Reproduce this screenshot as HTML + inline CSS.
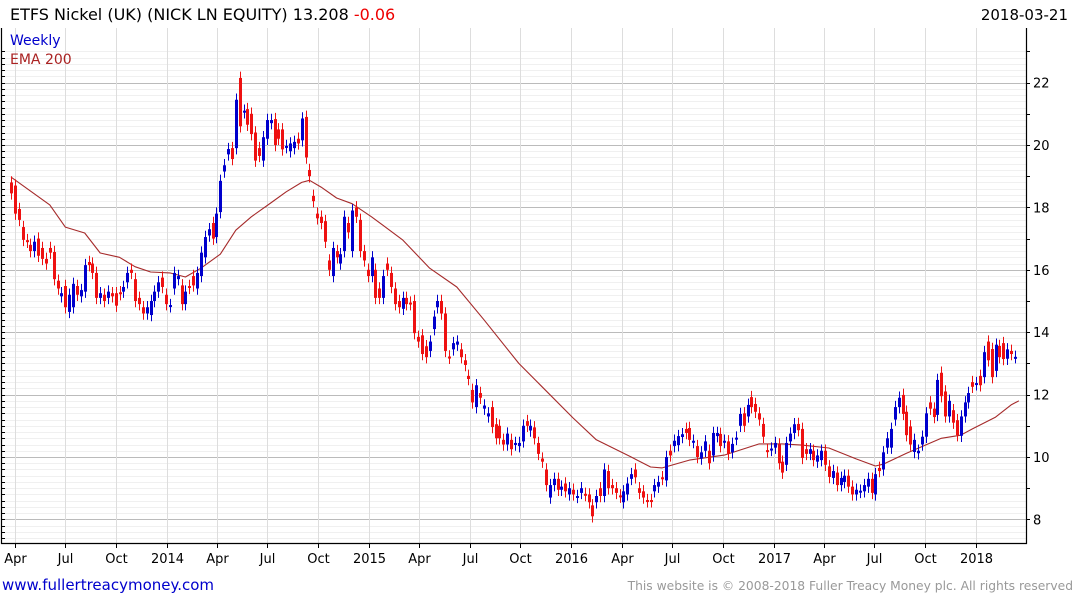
<!DOCTYPE html>
<html><head><meta charset="utf-8"><style>
body{margin:0;background:#fff;width:1075px;height:600px;overflow:hidden;font-family:"DejaVu Sans","Liberation Sans",sans-serif}
svg{display:block}
</style></head><body>
<svg id="chart" width="1075" height="600" xmlns="http://www.w3.org/2000/svg">
<text x="10" y="20" font-size="16" fill="#000">ETFS Nickel (UK) (NICK LN EQUITY) 13.208 <tspan fill="#e00">-0.06</tspan></text>
<text x="1068" y="20" font-size="15" text-anchor="end" fill="#000">2018-03-21</text>
<g id="grid"></g>
<g id="ema"></g>
<g id="candles"></g>
<g id="axes"></g>
<text x="10" y="45" font-size="14" fill="#00c">Weekly</text>
<text x="10" y="64" font-size="14" fill="#a22">EMA 200</text>
<a><text x="2" y="590" font-size="15" fill="#00c">www.fullertreacymoney.com</text></a>
<text x="1073" y="590" font-size="12.3" fill="#999" text-anchor="end">This website is © 2008-2018 Fuller Treacy Money plc. All rights reserved</text>
</svg>
<script>
const opens=[18.8,18.7,17.95,17.37,16.95,16.8,16.6,17.0,16.7,16.35,16.7,16.57,15.65,15.15,15.48,14.65,14.8,15.48,15.15,15.3,16.25,16.2,15.9,15.1,15.2,15.1,15.25,15.25,15.28,15.3,15.6,16.0,15.7,15.1,14.8,14.6,14.55,15.0,15.3,15.75,15.2,14.83,15.4,15.7,15.5,14.9,15.48,15.8,15.4,15.8,16.4,17.1,17.5,17.05,17.85,19.15,19.7,19.9,19.9,22.15,21.05,21.15,21.0,20.4,19.9,19.5,20.2,20.7,20.83,20.5,20.5,19.93,19.8,19.9,20.2,20.15,20.9,19.2,18.37,17.8,17.7,17.56,16.3,15.8,16.6,16.2,16.6,17.5,16.6,18.0,17.6,16.6,16.0,15.8,16.0,15.4,15.1,16.2,15.9,15.4,15.0,14.75,15.1,14.95,15.0,13.85,13.9,13.55,13.4,14.1,14.8,15.0,14.6,13.22,13.45,13.6,13.45,13.1,12.6,12.15,11.6,12.05,11.55,11.3,11.6,11.05,11.0,10.55,10.4,10.55,10.4,10.35,10.5,11.15,10.85,10.95,10.45,9.95,9.6,8.7,9.1,9.3,8.95,9.15,8.8,8.95,8.72,8.85,8.82,8.8,8.45,8.55,9.0,8.75,9.55,9.1,9.0,8.77,8.55,8.8,9.3,9.6,9.0,8.9,8.62,8.62,8.9,9.05,9.35,9.25,10.2,10.35,10.38,10.64,10.9,10.93,10.48,10.35,9.95,10.2,10.2,10.05,10.67,10.74,10.48,10.5,10.15,10.58,11.0,11.4,11.3,11.92,11.7,11.4,11.06,10.22,10.23,10.3,10.4,9.85,9.75,10.5,10.77,11.06,10.9,10.25,10.1,10.2,9.85,9.9,10.2,9.7,9.33,9.5,9.1,9.2,9.4,9.05,8.8,8.88,8.9,9.05,9.3,8.8,9.65,9.6,10.3,10.3,11.2,11.6,11.99,11.45,10.98,10.16,10.12,10.4,10.65,11.75,11.55,11.35,12.7,12.1,11.3,11.5,11.18,10.68,11.3,11.75,12.4,12.33,12.6,12.56,13.7,13.46,12.76,13.56,13.65,13.15,13.4,13.2];
const closes=[18.45,17.8,17.6,16.96,16.9,16.6,16.9,16.45,16.35,16.2,16.55,15.7,15.4,15.25,14.8,15.2,15.55,15.2,15.35,16.15,16.15,15.9,15.1,15.25,15.0,15.3,15.15,14.85,15.22,15.45,15.9,15.9,15.0,14.9,14.6,14.8,15.0,15.3,15.6,15.45,14.9,14.87,15.9,15.8,14.9,15.3,15.42,15.5,15.9,16.55,17.05,17.3,17.0,17.8,18.85,19.35,19.87,19.55,21.45,20.6,21.1,20.65,20.35,19.5,19.65,20.25,20.8,20.8,20.0,20.2,19.86,19.97,20.05,20.1,20.05,20.85,19.6,19.0,18.2,17.65,17.5,16.9,16.0,16.7,16.4,16.5,17.7,17.2,17.9,17.7,16.6,16.3,15.8,16.4,15.1,15.1,15.8,16.0,15.45,14.9,14.8,15.1,14.9,14.9,13.97,13.7,13.3,13.2,13.7,14.5,15.0,14.6,13.4,13.18,13.65,13.7,13.2,12.95,12.5,11.75,12.3,11.9,11.65,11.4,10.96,10.6,10.6,10.4,10.75,10.25,10.45,10.45,11.0,11.0,11.0,10.6,10.1,9.85,9.1,9.1,9.3,8.95,9.05,8.9,9.0,8.8,8.75,9.0,8.78,8.55,8.1,8.75,8.75,9.6,9.0,9.0,8.85,8.73,8.9,9.15,9.45,9.35,8.85,8.7,8.58,8.58,9.1,9.2,9.3,10.0,10.05,10.52,10.67,10.73,10.77,10.55,10.52,10.0,10.15,10.5,9.8,10.77,10.77,10.35,10.52,10.1,10.42,10.62,11.38,11.0,11.67,11.6,11.45,11.2,10.65,10.18,10.27,10.45,9.8,9.5,10.45,10.75,11.05,10.86,9.97,10.1,10.25,9.9,10.05,10.2,9.75,9.36,9.55,9.1,9.33,9.4,9.05,8.8,8.95,8.92,9.1,9.3,8.85,9.45,9.55,10.15,10.6,10.9,11.6,11.9,11.38,10.7,10.4,10.55,10.2,10.65,11.4,11.55,11.28,12.47,11.95,11.3,11.8,11.1,10.7,11.3,11.75,12.05,12.25,12.37,12.3,13.36,13.1,12.56,13.6,13.2,13.14,13.45,13.3,13.21];
const emaWeeks=[0,10,14,19,23,28,32,36,41,45,49,54,58,62,67,71,75,77,80,84,88,93,101,108,115,122,131,137,145,151,160,165,168,175,184,193,199,204,211,218,223,225,231,240,245,248,254,258,260];
const emaValues=[18.97,18.08,17.37,17.18,16.54,16.4,16.1,15.93,15.9,15.77,16.05,16.5,17.27,17.7,18.14,18.5,18.8,18.87,18.65,18.3,18.12,17.7,16.96,16.05,15.45,14.4,13.0,12.25,11.25,10.55,10.0,9.68,9.65,9.9,10.06,10.42,10.42,10.38,10.29,9.94,9.71,9.77,10.12,10.6,10.7,10.9,11.28,11.67,11.8];
const yTicks=[8,10,12,14,16,18,20,22];
const xTickLabels=["Apr","Jul","Oct","2014","Apr","Jul","Oct","2015","Apr","Jul","Oct","2016","Apr","Jul","Oct","2017","Apr","Jul","Oct","2018"];
const xTickDates=["2013-04-01","2013-07-01","2013-10-01","2014-01-01","2014-04-01","2014-07-01","2014-10-01","2015-01-01","2015-04-01","2015-07-01","2015-10-01","2016-01-01","2016-04-01","2016-07-01","2016-10-01","2017-01-01","2017-04-01","2017-07-01","2017-10-01","2018-01-01"];
const startDate="2013-03-25";

const NS="http://www.w3.org/2000/svg";
const L=1,R=1026,T=28,B=543;
const X0=11,X1=1015;
const n=closes.length;
const xw=w=>X0+w*(X1-X0)/(n-1);
const yv=v=>457-(v-10)*31.2;
function mk(tag,attrs,parent){const e=document.createElementNS(NS,tag);for(const k in attrs)e.setAttribute(k,attrs[k]);parent.appendChild(e);return e;}
const grid=document.getElementById('grid'),axes=document.getElementById('axes'),cg=document.getElementById('candles'),eg=document.getElementById('ema');
for(let v=7.2;v<=23.01;v+=0.2){const y=Math.round(yv(v))+0.5;if(y<T||y>B)continue;const major=Math.abs(v/2-Math.round(v/2))<0.01;
 const ln=mk('line',{x1:L,x2:R,y1:y,y2:y,stroke:major?'#bbb':'#f0f0f0','stroke-width':1},grid);
 
 
 const tk=mk('line',{x1:L,x2:L+4,y1:y,y2:y,stroke:'#000'},axes);
 
 
 if(Math.abs(v*2-Math.round(v*2))<0.01){const rt=mk('line',{x1:R,x2:R+4,y1:y,y2:y,stroke:'#000'},axes);
 
 }
}
yTicks.forEach(v=>{const t=mk('text',{x:R+7,y:yv(v)+5,'font-size':13,fill:'#000'},axes);t.textContent=v;
 
 });
const s=new Date(startDate+"T00:00:00Z").getTime();
xTickDates.forEach((d,i)=>{const w=(new Date(d+"T00:00:00Z").getTime()-s)/(7*864e5);const x=Math.round(xw(w))+0.5;
 const g=mk('line',{x1:x,x2:x,y1:T,y2:B,stroke:'#ddd'},grid);
 
 
 const tk=mk('line',{x1:x,x2:x,y1:B,y2:B+5,stroke:'#000'},axes);
 
 
 const t=mk('text',{x:x,y:B+20,'font-size':13,'text-anchor':'middle',fill:'#000'},axes);t.textContent=xTickLabels[i];
 
 });
const fr=mk('path',{d:`M${L+0.5},${T} V${B+0.5} H${R+0.5} V${T}`,fill:'none',stroke:'#000','stroke-width':1.2},axes);


const ep=mk('polyline',{points:emaWeeks.map((w,i)=>xw(w).toFixed(1)+','+yv(emaValues[i]).toFixed(1)).join(' '),fill:'none',stroke:'#a52a2a','stroke-width':1.1,'stroke-linejoin':'round'},eg);


for(let i=0;i<n;i++){const o=opens[i],c=closes[i];const up=c>=o;const col=up?'#0000cc':'#ee1111';const x=Math.round(xw(i));
 const hi=Math.max(o,c)+0.2,lo=Math.min(o,c)-0.2;
 const w=mk('line',{x1:x+0.5,x2:x+0.5,y1:yv(hi),y2:yv(lo),stroke:col,'stroke-width':1},cg);
 
 
 const top=yv(Math.max(o,c)),h=Math.max(2,yv(Math.min(o,c))-top);
 const r=mk('rect',{x:x-1,y:top,width:3,height:h,fill:col},cg);
 
 }
</script>
</body></html>
